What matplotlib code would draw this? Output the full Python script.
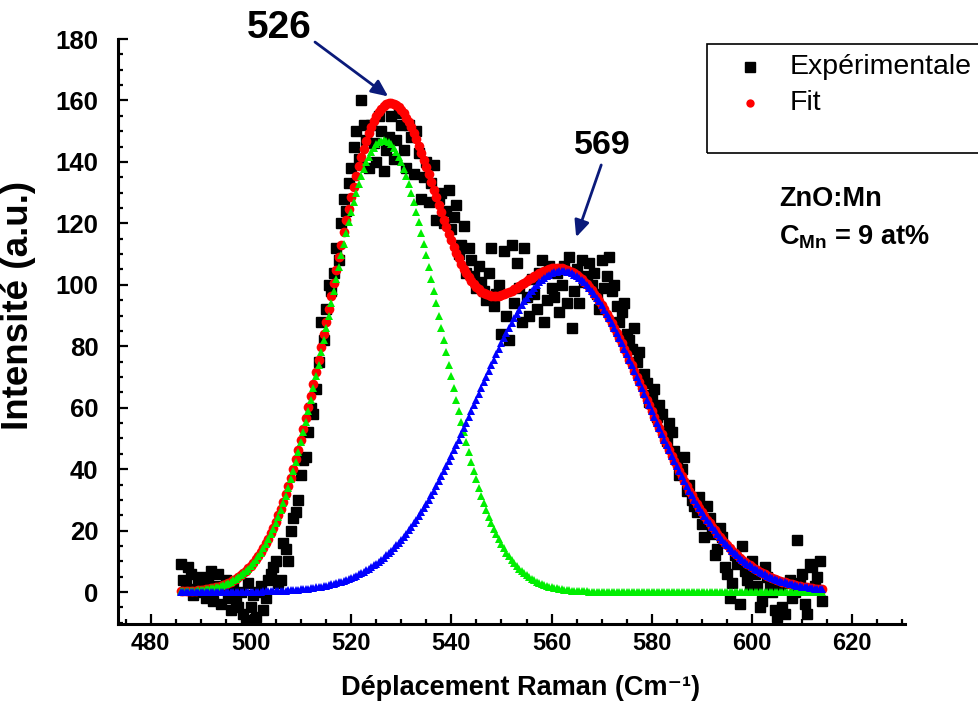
import numpy as np
import matplotlib
matplotlib.use("Agg")
import matplotlib.pyplot as plt
from matplotlib import font_manager
from matplotlib.patches import Rectangle
from matplotlib.lines import Line2D

# ---- data -------------------------------------------------------------
# Measured spectrum, sampled every 0.5 cm-1: values on the whole-number
# shifts 486..614 and on the half-number shifts 486.5..613.5
shift_start, shift_stop = 486, 614
intensity_whole = [
    9, 3, 6, 1, 5, -2, 7, 2, -4, 4,            # 486-495
    -6, -3, 0, -9, -5, -8, 2, -2, 6, 10,       # 496-505
    4, 14, 20, 26, 38, 44, 60, 66, 88, 92,     # 506-515
    98, 112, 120, 124, 138, 150, 160, 147, 152, 140,   # 516-525
    150, 144, 155, 147, 152, 138, 148, 150, 128, 140,  # 526-535
    133, 121, 130, 124, 118, 126, 113, 104, 108, 99,   # 536-545
    101, 95, 112, 97, 84, 90, 113, 107, 88, 96,        # 546-555
    102, 92, 108, 95, 99, 104, 100, 94, 86, 105,       # 556-565
    108, 103, 100, 97, 108, 103, 98, 93, 91, 84,       # 566-575
    79, 75, 70, 68, 64, 57, 58, 49, 52, 43,            # 576-585
    40, 33, 30, 26, 22, 28, 19, 14, 18, 6,             # 586-595
    3, 9, 15, 4, 10, 2, -3, 5, 0, -8,                  # 596-605
    -5, 3, -2, 17, 6, -7, 8, 5, -3,                    # 606-614
]
intensity_half = [
    4, 8, -1, 3, 0, 4, -3, 6, 1, -2,                   # 486.5-495.5
    2, -5, -7, 3, -1, 0, -6, 4, 8, 3,                  # 496.5-505.5
    16, 10, 24, 30, 43, 52, 58, 75, 82, 100,           # 506.5-515.5
    104, 108, 128, 133, 145, 141, 152, 138, 146, 155,  # 516.5-525.5
    137, 148, 141, 156, 144, 152, 136, 143, 135, 127,  # 526.5-535.5
    139, 128, 120, 131, 122, 110, 119, 112, 103, 106,  # 536.5-545.5
    98, 104, 93, 100, 111, 82, 94, 99, 112, 90,        # 546.5-555.5
    97, 104, 88, 106, 96, 91, 106, 109, 98, 94,        # 556.5-565.5
    101, 107, 104, 92, 99, 109, 100, 88, 94, 82,       # 566.5-575.5
    86, 78, 71, 62, 66, 61, 52, 55, 46, 38,            # 576.5-585.5
    44, 35, 28, 31, 18, 24, 12, 21, 8, -2,             # 586.5-595.5
    12, -4, 7, 1, 6, -5, 8, 2, -6, 1,                  # 596.5-605.5
    -7, 4, 0, 3, -4, 9, 2, 10,                         # 606.5-613.5
]

# Two-band Gaussian fit: centre (cm-1), height (a.u.), width sigma (cm-1)
band_centres = [526.5, 562.0]
band_heights = [147.0, 104.5]
band_sigmas = [11.1, 16.8]
fit_step = 0.5

peak_labels = ["526", "569"]

# ---- fonts ------------------------------------------------------------
available = {f.name for f in font_manager.fontManager.ttflist}
base_font = "Liberation Sans" if "Liberation Sans" in available else "DejaVu Sans"
narrow_font = "Liberation Sans Narrow" if "Liberation Sans Narrow" in available else base_font
plt.rcParams["font.family"] = [base_font, "DejaVu Sans"]
plt.rcParams["mathtext.fontset"] = "custom"
plt.rcParams["mathtext.rm"] = base_font
plt.rcParams["mathtext.bf"] = base_font + ":bold"
plt.rcParams["mathtext.default"] = "bf"

# ---- curves -----------------------------------------------------------
x_whole = np.arange(shift_start, shift_stop + 1)
x_half = x_whole[:-1] + 0.5
x_exp = np.concatenate([x_whole, x_half])
y_exp = np.concatenate([intensity_whole, intensity_half]).astype(float)
order = np.argsort(x_exp)
x_exp, y_exp = x_exp[order], y_exp[order]

x_fit = np.arange(shift_start, shift_stop + fit_step / 2, fit_step)
bands = [h * np.exp(-(x_fit - c) ** 2 / (2 * s ** 2))
         for c, h, s in zip(band_centres, band_heights, band_sigmas)]
y_fit = bands[0] + bands[1]

# ---- figure -----------------------------------------------------------
W, H = 979, 718
fig = plt.figure(figsize=(W / 100, H / 100), dpi=100)
ax = fig.add_axes([118 / W, (H - 624) / H, (905 - 118) / W, (624 - 39) / H])

ax.plot(x_exp, y_exp, linestyle="none", marker="s", markersize=7.8,
        color="black", zorder=2)
ax.plot(x_fit, y_fit, linestyle="none", marker="o", markersize=7,
        color="#ff0000", markeredgewidth=0, zorder=3)
ax.plot(x_fit, bands[0], linestyle="none", marker="^", markersize=5.5,
        color="#00ee00", markeredgewidth=0, zorder=4)
ax.plot(x_fit, bands[1], linestyle="none", marker="^", markersize=5.5,
        color="#0000ff", markeredgewidth=0, zorder=5)

ax.set_xlim(473.5, 630.5)
ax.set_ylim(-10.4, 180)
ax.set_xticks(np.arange(480, 621, 20))
ax.set_xticks(np.arange(475, 631, 5), minor=True)
ax.set_yticks(np.arange(0, 181, 20))
ax.set_yticks(np.arange(-10, 181, 5), minor=True)

for side in ("top", "right"):
    ax.spines[side].set_visible(False)
for side in ("left", "bottom"):
    ax.spines[side].set_linewidth(2.2)

ax.tick_params(which="both", direction="in", width=1.6)
ax.tick_params(which="major", length=7)
ax.tick_params(which="minor", length=3.5)
ax.tick_params(axis="y", labelsize=18.5, pad=14)
ax.tick_params(axis="x", labelsize=17, pad=6)
for lab in ax.get_yticklabels():
    lab.set_fontweight("bold")
for lab in ax.get_xticklabels():
    lab.set_fontweight("bold")
    lab.set_family(narrow_font)

ax.set_ylabel("Intensité (a.u.)", fontsize=26.5, fontweight="bold")
ax.yaxis.set_label_coords(-0.104, 0.545)
ax.set_xlabel("Déplacement Raman (Cm⁻¹)", fontsize=19.5,
              fontweight="bold", family=[narrow_font, "DejaVu Sans"])
ax.xaxis.set_label_coords(0.511, -0.087)

# peak annotations
arrow_color = "#0a1a7a"
ax.text(505.6, 183.6, peak_labels[0], fontsize=28, fontweight="bold",
        ha="center", va="center", clip_on=False)
ax.annotate("", xy=(527.4, 161.3), xytext=(512.8, 179.0),
            xycoords="data", textcoords="data", annotation_clip=False,
            arrowprops=dict(arrowstyle="-|>,head_length=1.0,head_width=0.45",
                            color=arrow_color, lw=2.0, shrinkA=0, shrinkB=0))
ax.text(570.1, 145.5, peak_labels[1], fontsize=24.5, fontweight="bold",
        ha="center", va="center")
ax.annotate("", xy=(564.9, 115.5), xytext=(569.9, 139.0),
            xycoords="data", textcoords="data",
            arrowprops=dict(arrowstyle="-|>,head_length=1.0,head_width=0.45",
                            color=arrow_color, lw=2.0, shrinkA=0, shrinkB=0))

# sample annotation
fig.text(779 / W, 1 - 199 / H, "ZnO:Mn", fontsize=19.5, fontweight="bold",
         ha="left", va="center")
fig.text(779 / W, 1 - 237 / H, r"C$_{\mathbf{Mn}}$ = 9 at%", fontsize=19.5,
         fontweight="bold", ha="left", va="center")

# legend box
fig.patches.append(Rectangle((707 / W, 1 - 153 / H), 0.35, (153 - 44) / H,
                             transform=fig.transFigure, fill=False,
                             edgecolor="black", linewidth=1.2))
fig.lines.append(Line2D([750 / W], [1 - 67 / H], transform=fig.transFigure,
                        marker="s", markersize=7.5, color="black", linestyle="none"))
fig.lines.append(Line2D([750 / W], [1 - 103 / H], transform=fig.transFigure,
                        marker="o", markersize=6, color="#ff0000",
                        markeredgewidth=0, linestyle="none"))
fig.text(790 / W, 1 - 67 / H, "Expérimentale", fontsize=20.5, ha="left", va="center")
fig.text(790 / W, 1 - 103 / H, "Fit", fontsize=20.5, ha="left", va="center")

fig.savefig("out.png", dpi=100)
